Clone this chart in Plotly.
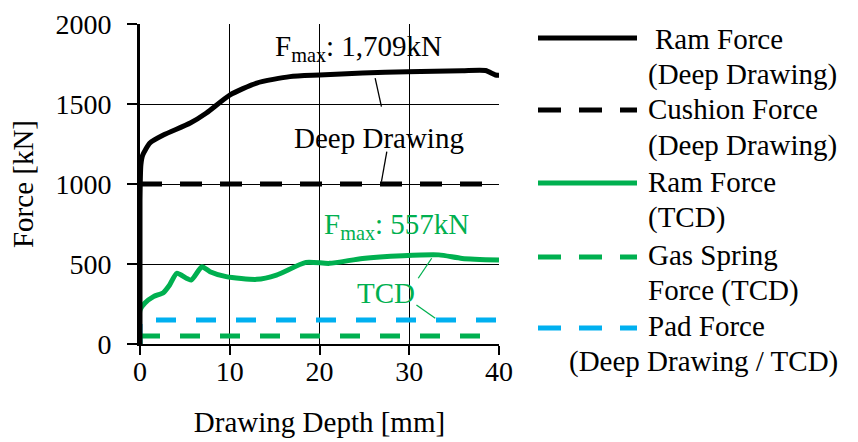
import plotly.graph_objects as go

# ---- data ----
ram_dd_x = [0, 0, 0.1, 0.3, 1.1, 2.6, 5.6, 7.4, 10, 13, 16.7, 20, 24.8, 29.8, 35.9, 38.5, 39.6, 40]
ram_dd_y = [0, 900, 1120, 1180, 1256, 1306, 1381, 1444, 1556, 1631, 1671, 1681, 1694, 1702, 1708, 1709, 1681, 1680]

cushion_x = [0, 40]
cushion_y = [1000, 1000]

ram_tcd_x = [0, 0, 0.55, 1.5, 2.6, 3.3, 4.1, 5.7, 6.9, 7.8, 9.6, 13, 15.2, 18.5, 21.1, 24.8, 29.3, 33.3, 35.9, 40]
ram_tcd_y = [0, 212, 256, 296, 321, 369, 442, 400, 483, 452, 421, 404, 431, 510, 504, 535, 552, 557, 535, 525]

gas_x = [0, 40]
gas_y = [50, 50]

pad_x = [0, 0, 40]
pad_y = [0, 150, 150]

x_ticks = [0, 10, 20, 30, 40]
y_ticks = [0, 500, 1000, 1500, 2000]

BLACK = "#000000"
GREEN = "#00B050"
BLUE = "#00B0F0"
FONT = "Liberation Serif, Times New Roman, serif"
FS = 29
DASH = "22px,18px"

fig = go.Figure()
fig.add_trace(go.Scatter(x=pad_x, y=pad_y, mode="lines", line=dict(color=BLUE, width=5, dash="20px,20px")))
fig.add_trace(go.Scatter(x=gas_x, y=gas_y, mode="lines", line=dict(color=GREEN, width=5, dash="20px,20px")))
fig.add_trace(go.Scatter(x=ram_tcd_x, y=ram_tcd_y, mode="lines", line=dict(color=GREEN, width=5, shape="spline", smoothing=0.6)))
fig.add_trace(go.Scatter(x=cushion_x, y=cushion_y, mode="lines", line=dict(color=BLACK, width=5, dash=DASH)))
fig.add_trace(go.Scatter(x=ram_dd_x, y=ram_dd_y, mode="lines", line=dict(color=BLACK, width=5, shape="spline", smoothing=0.6)))

shapes = []
annotations = []

# leader lines (data coords)
leaders = [
    ((26.2, 1662), (26.9, 1483), BLACK),
    ((27.5, 1202), (26.9, 1014), BLACK),
    ((32.5, 536), (31.0, 411), GREEN),
    ((30.8, 244), (32.9, 161), GREEN),
]
for (x0, y0), (x1, y1), c in leaders:
    shapes.append(dict(type="line", xref="x", yref="y", x0=x0, y0=y0, x1=x1, y1=y1,
                       line=dict(color=c, width=1.3)))

# in-plot labels
labels = [
    (24.3, 1850, "F<sub>max</sub>: 1,709kN", BLACK),
    (26.6, 1290, "Deep Drawing", BLACK),
    (28.6, 735, "F<sub>max</sub>: 557kN", GREEN),
    (27.4, 320, "TCD", GREEN),
]
for x, y, t, c in labels:
    annotations.append(dict(x=x, y=y, xref="x", yref="y", text=t, showarrow=False,
                            font=dict(family=FONT, size=FS, color=c),
                            xanchor="center", yanchor="middle"))

# manual legend (paper coords, plot spans px 140..499, 24..344)
def px_x(p):
    return (p - 140) / 359.0

def px_y(p):
    return (344 - p) / 320.0

legend_items = [
    (38, BLACK, "solid"),
    (110, BLACK, "23px,18px"),
    (183, GREEN, "solid"),
    (257, GREEN, "23px,18px"),
    (328, BLUE, "23px,18px"),
]
for py, c, d in legend_items:
    shapes.append(dict(type="line", xref="paper", yref="paper",
                       x0=px_x(538), x1=px_x(637), y0=px_y(py), y1=px_y(py),
                       line=dict(color=c, width=5, dash=d)))

legend_texts = [
    (653, 39, "Ram Force"),
    (646, 74, "(Deep Drawing)"),
    (646, 109, "Cushion Force"),
    (646, 145, "(Deep Drawing)"),
    (646, 182, "Ram Force"),
    (646, 217, "(TCD)"),
    (646, 255, "Gas Spring"),
    (646, 290, "Force (TCD)"),
    (646, 326, "Pad Force"),
    (567, 361, "(Deep Drawing / TCD)"),
]
for px, py, t in legend_texts:
    annotations.append(dict(x=px_x(px), y=px_y(py), xref="paper", yref="paper", text=t,
                            showarrow=False, xanchor="left", yanchor="middle",
                            font=dict(family=FONT, size=FS, color=BLACK)))

fig.update_layout(
    width=858, height=442,
    margin=dict(l=140, r=359, t=24, b=98),
    paper_bgcolor="white", plot_bgcolor="white",
    showlegend=False,
    font=dict(family=FONT, size=FS, color=BLACK),
    shapes=shapes, annotations=annotations,
    xaxis=dict(range=[0, 40], tickvals=x_ticks, ticks="outside", ticklen=9, tickwidth=1.5,
               tickcolor=BLACK, showline=True, linecolor=BLACK, linewidth=2,
               showgrid=True, gridcolor=BLACK, gridwidth=1, zeroline=False,
               ticklabelstandoff=-8, automargin=False,
               tickfont=dict(family=FONT, size=28, color=BLACK),
               title=dict(text="Drawing Depth [mm]", font=dict(family=FONT, size=FS, color=BLACK), standoff=26)),
    yaxis=dict(range=[0, 2000], tickvals=y_ticks, ticks="outside", ticklen=10, tickwidth=1.5,
               tickcolor=BLACK, showline=True, linecolor=BLACK, linewidth=3,
               showgrid=True, gridcolor=BLACK, gridwidth=1, zeroline=False,
               ticklabelstandoff=10, automargin=False,
               tickfont=dict(family=FONT, size=28, color=BLACK),
               title=dict(text="Force [kN]", font=dict(family=FONT, size=FS, color=BLACK), standoff=14)),
)

fig.write_html("out.html")
